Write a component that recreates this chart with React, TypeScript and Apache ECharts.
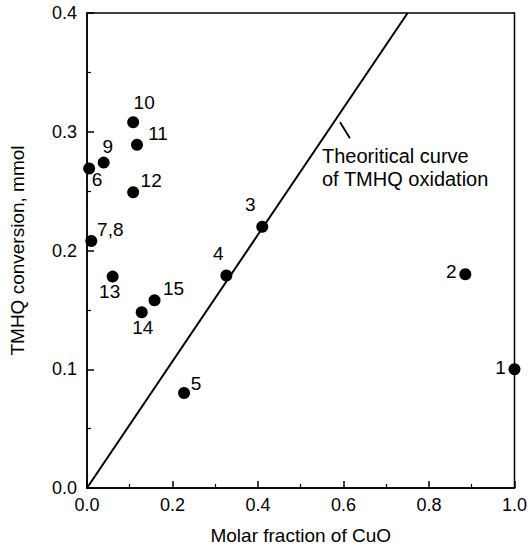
import React, { useEffect, useRef } from "react";
import * as echarts from "echarts";

// Sample number, molar fraction of CuO, TMHQ conversion (mmol)
const sampleLabels = ["1", "2", "3", "4", "5", "6", "7,8", "9", "10", "11", "12", "13", "14", "15"];
const cuoFraction = [1.0, 0.885, 0.41, 0.326, 0.227, 0.005, 0.01, 0.039, 0.108, 0.117, 0.108, 0.06, 0.128, 0.158];
const conversion = [0.1, 0.18, 0.22, 0.179, 0.08, 0.269, 0.208, 0.274, 0.308, 0.289, 0.249, 0.178, 0.148, 0.158];

// Theoretical curve of TMHQ oxidation (straight line)
const theoryX = [0, 0.75];
const theoryY = [0, 0.4];

// Pointer from the annotation text to the curve
const pointerX = [0.592, 0.615];
const pointerY = [0.308, 0.2946];

const xTicks = [0, 0.2, 0.4, 0.6, 0.8, 1.0];
const yTicks = [0, 0.1, 0.2, 0.3, 0.4];

const annotationLines = ["Theoritical curve", "of TMHQ oxidation"];

// label offsets (px) around each marker, styling only
const labelOffsets: [number, number][] = [
  [-14, -2], [-14, -3], [-12, -22], [-8, -22], [12, -10], [8, 11], [19, -12],
  [4, -16], [11, -20], [21, -11], [18, -12], [-3, 15], [1, 15], [19, -12],
];

const FONT = "'Liberation Sans', Arial, Helvetica, sans-serif";

export default function App() {
  const ref = useRef<HTMLDivElement>(null);
  useEffect(() => {
    if (!ref.current) return;
    const chart = echarts.init(ref.current, undefined, { renderer: "svg" });
    const pts = cuoFraction.map((x, i) => ({
      value: [x, conversion[i]],
      name: sampleLabels[i],
      label: { offset: labelOffsets[i] },
    }));
    chart.setOption({
      animation: false,
      backgroundColor: "#ffffff",
      textStyle: { fontFamily: FONT },
      grid: {
        left: 85,
        right: 9,
        top: 13,
        bottom: 60,
        show: true,
        borderColor: "#000",
        borderWidth: 1.5,
        backgroundColor: "transparent",
      },
      xAxis: {
        type: "value",
        min: xTicks[0],
        max: xTicks[xTicks.length - 1],
        interval: 0.2,
        name: "Molar fraction of CuO",
        nameLocation: "middle",
        nameGap: 38,
        nameTextStyle: { color: "#000", fontSize: 19, fontFamily: FONT },
        axisLine: { show: true, lineStyle: { color: "#000", width: 1.5 } },
        axisTick: { show: true, inside: true, length: 7, lineStyle: { color: "#000", width: 1.5 } },
        minorTick: { show: true, splitNumber: 2, length: 4, lineStyle: { color: "#000", width: 1.2 } },
        splitLine: { show: false },
        axisLabel: {
          color: "#000",
          fontSize: 18,
          fontFamily: FONT,
          margin: 8,
          formatter: (v: number) => v.toFixed(1),
        },
      },
      yAxis: {
        type: "value",
        min: yTicks[0],
        max: yTicks[yTicks.length - 1],
        interval: 0.1,
        name: "TMHQ conversion, mmol",
        nameLocation: "middle",
        nameGap: 60,
        nameTextStyle: { color: "#000", fontSize: 19, fontFamily: FONT },
        axisLine: { show: true, lineStyle: { color: "#000", width: 1.5 } },
        axisTick: { show: true, inside: true, length: 7, lineStyle: { color: "#000", width: 1.5 } },
        minorTick: { show: true, splitNumber: 2, length: 4, lineStyle: { color: "#000", width: 1.2 } },
        splitLine: { show: false },
        axisLabel: {
          color: "#000",
          fontSize: 18,
          fontFamily: FONT,
          margin: 10,
          formatter: (v: number) => v.toFixed(1),
        },
      },
      series: [
        {
          type: "line",
          data: theoryX.map((x, i) => [x, theoryY[i]]),
          symbol: "none",
          lineStyle: { color: "#000", width: 2 },
          silent: true,
          z: 2,
        },
        {
          type: "line",
          data: pointerX.map((x, i) => [x, pointerY[i]]),
          symbol: "none",
          lineStyle: { color: "#000", width: 1.8 },
          silent: true,
          z: 2,
        },
        {
          type: "scatter",
          data: pts,
          symbol: "circle",
          symbolSize: 12,
          itemStyle: { color: "#000", opacity: 1 },
          label: {
            show: true,
            position: "inside",
            formatter: (p: any) => p.name,
            color: "#000",
            fontSize: 19,
            fontFamily: FONT,
            align: "center",
            verticalAlign: "middle",
          },
          z: 3,
        },
      ],
      graphic: [
        {
          type: "text",
          left: 322,
          top: 144,
          style: {
            text: annotationLines.join("\n"),
            fill: "#000",
            font: `20px ${FONT}`,
            lineHeight: 23,
          },
        },
      ],
    });
    return () => chart.dispose();
  }, []);
  return (
    <div
      ref={ref}
      style={{ position: "fixed", left: 0, top: 0, width: 530, height: 550, background: "#fff" }}
    />
  );
}
